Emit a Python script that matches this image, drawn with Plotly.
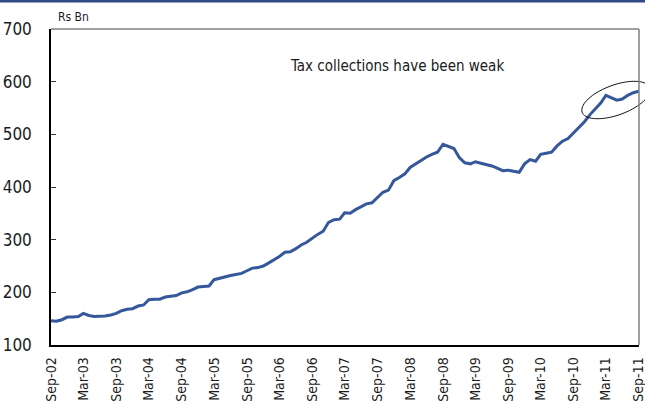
import math
import pandas as pd
import plotly.graph_objects as go

# Monthly tax collections, Sep-2002 .. Sep-2011 (Rs Bn)
start_month = "2002-09-01"
tax_collections = [
    146, 145, 148, 153, 153, 154, 160, 156, 154, 154, 155, 157,
    160, 165, 168, 169, 174, 176, 186, 187, 187, 191, 193, 194,
    199, 201, 205, 210, 211, 212, 224, 227, 229, 232, 234, 236,
    241, 246, 247, 250, 256, 262, 268, 276, 277, 283, 290, 295,
    303, 310, 316, 333, 338, 339, 351, 350, 357, 363, 368, 370,
    380, 390, 394, 412, 418, 425, 437, 444, 451, 457, 462, 466,
    481, 477, 473, 456, 446, 444, 448, 445, 443, 440, 436, 431,
    432, 430, 428, 444, 452, 449, 462, 464, 466, 478, 487, 492,
    503, 515, 524, 537, 549, 560, 574, 569, 565, 567, 574, 579,
    582,
]
y_ticks = [100, 200, 300, 400, 500, 600, 700]
note_text = "Tax collections have been weak"
unit_text = "Rs Bn"

months = pd.date_range(start_month, periods=len(tax_collections), freq="MS")

FONT = "Liberation Sans Narrow, DejaVu Sans Condensed, Arial Narrow, sans-serif"
INK = "#1a1a1a"
W, H = 645, 404
ML, MR, MT, MB = 51, 6, 29, 59
PW, PH = W - ML - MR, H - MT - MB

fig = go.Figure()
fig.add_trace(go.Scatter(
    x=months, y=tax_collections, mode="lines",
    line=dict(color="#34589a", width=3),
    hoverinfo="x+y", showlegend=False,
))

# highlight ellipse around the latest months (pixel geometry -> paper coords)
cx, cy, a, b, ang = 616, 100, 36, 15, math.radians(20)
pts = []
for k in range(73):
    t = 2 * math.pi * k / 72
    px = cx + a * math.cos(t) * math.cos(ang) - b * math.sin(t) * math.sin(ang)
    py = cy - (a * math.cos(t) * math.sin(ang) + b * math.sin(t) * math.cos(ang))
    pts.append(((px - ML) / PW, (H - MB - py) / PH))
path = "M " + " L ".join(f"{x:.4f},{y:.4f}" for x, y in pts) + " Z"

shapes = [
    dict(type="path", path=path, xref="paper", yref="paper",
         line=dict(color="#111111", width=1)),
    # grey top and right frame
    dict(type="line", xref="paper", yref="paper", x0=0, x1=1, y0=1, y1=1,
         line=dict(color="#808080", width=1.5)),
    dict(type="line", xref="paper", yref="paper", x0=1, x1=1, y0=0, y1=1,
         line=dict(color="#808080", width=1.5)),
    # page header rule
    dict(type="rect", xref="paper", yref="paper",
         x0=-ML / PW, x1=1 + MR / PW, y0=1 + (MT - 2.5) / PH, y1=1 + MT / PH,
         fillcolor="#2e4a84", line=dict(width=0)),
]

fig.update_layout(
    width=W, height=H,
    margin=dict(l=ML, r=MR, t=MT, b=MB, autoexpand=False),
    paper_bgcolor="white", plot_bgcolor="white",
    font=dict(family=FONT, size=16, color=INK),
    shapes=shapes,
    annotations=[
        dict(text=note_text, x=(397 - ML) / PW, y=(H - MB - 66) / PH,
             xref="paper", yref="paper", showarrow=False,
             xanchor="center", yanchor="middle",
             font=dict(size=15, color=INK)),
        dict(text=unit_text, x=(56 - ML) / PW, y=(H - MB - 17) / PH,
             xref="paper", yref="paper", xanchor="left", yanchor="middle",
             showarrow=False, font=dict(size=12, color=INK)),
    ],
    xaxis=dict(
        range=[months[0], pd.Timestamp("2011-09-02")],
        tick0=start_month, dtick="M6", tickformat="%b-%y",
        tickangle=-90, ticks="", showgrid=False, zeroline=False,
        showline=True, linecolor="black", linewidth=1.5,
        ticklabelstandoff=5, automargin=False, ticklabeloverflow="allow",
        tickfont=dict(size=14, color=INK),
    ),
    yaxis=dict(
        range=[100, 700], tickvals=y_ticks,
        ticks="inside", ticklen=5, tickcolor="#333333", tickwidth=1,
        showgrid=False, zeroline=False,
        showline=True, linecolor="black", linewidth=1.5,
        ticklabelstandoff=14, automargin=False,
        tickfont=dict(size=17, color=INK),
    ),
)

fig.write_html("out.html")
